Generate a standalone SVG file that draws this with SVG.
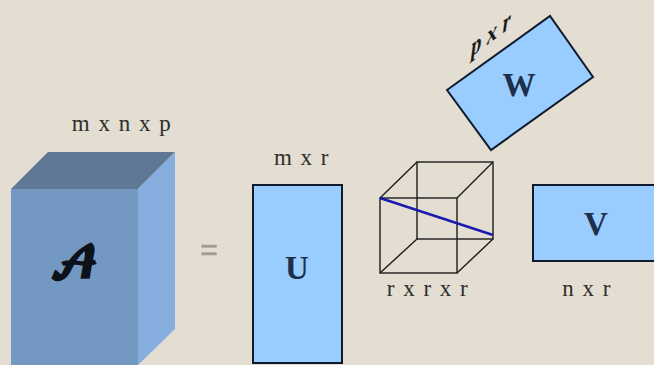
<svg xmlns="http://www.w3.org/2000/svg" width="654" height="365" viewBox="0 0 654 365">
<style>
.lab{font-family:"Liberation Serif",serif;font-size:23px;fill:#2e2e2c;letter-spacing:1.5px;text-anchor:middle}
.big{font-family:"Liberation Serif",serif;font-size:33px;font-weight:bold;fill:#1d2f4a;text-anchor:middle}
.mat{fill:#99ccff;stroke:#0f1a2c;stroke-width:2}
.edge{fill:none;stroke:#1c1c1c;stroke-width:1.4}
</style>
<rect width="654" height="365" fill="#e3ddd2"/>
<g id="tensor-A">
<polygon points="11,189 138,189 138,365 11,365" fill="#7399c3"/>
<polygon points="11,189 48,152 175,152 138,189" fill="#5e7896"/>
<polygon points="138,189 175,152 175,329 138,365" fill="#86aede"/>
<text x="74" y="278" font-family="'DejaVu Math TeX Gyre','DejaVu Serif','Noto Sans',serif" font-size="43" font-weight="bold" fill="#0d1119" text-anchor="middle">𝓐</text>
<text class="lab" x="122" y="131">m x n x p</text>
</g>
<g id="equals"><text x="209" y="260" font-family="Liberation Sans,sans-serif" font-size="30" fill="#a09c96" stroke="#a09c96" stroke-width="0.6" text-anchor="middle">=</text></g>
<g id="matrix-U">
<rect class="mat" x="253" y="185" width="89" height="178"/>
<text class="big" x="297" y="279">U</text>
<text class="lab" x="302" y="165">m x r</text>
</g>
<g id="matrix-W">
<polygon class="mat" points="447,90 550,16 593,77 491,150"/>
<text class="big" x="519" y="96">W</text>
<text transform="matrix(1,-0.75,0,1.25,471,57)" x="0" y="0" font-family="Liberation Serif,serif" font-size="21" font-style="italic" font-weight="bold" fill="#1c1c1c">p x r</text>
</g>
<g id="core-cube">
<rect class="edge" x="380" y="198" width="77" height="75"/>
<rect class="edge" x="417" y="162" width="76" height="77"/>
<path class="edge" d="M380,198L417,162M457,198L493,162M380,273L417,239M457,273L493,239"/>
<line x1="380" y1="198" x2="493" y2="235" stroke="#1a1ab0" stroke-width="2.5"/>
<text class="lab" x="428" y="296">r x r x r</text>
</g>
<g id="matrix-V">
<rect class="mat" x="533" y="185" width="125" height="76"/>
<text class="big" x="596" y="235">V</text>
<text class="lab" x="587" y="296">n x r</text>
</g>
<g id="connectors"></g>
</svg>
